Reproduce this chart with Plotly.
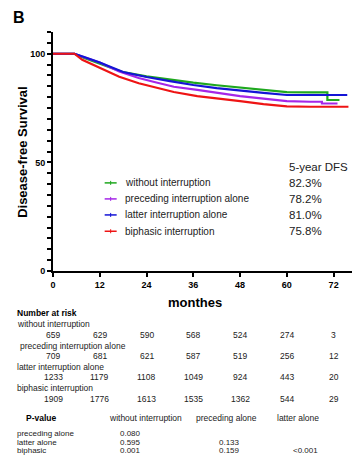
import plotly.graph_objects as go

# ---------------- data ----------------
series_names = ["without interruption", "preceding interruption alone",
                "latter interruption alone", "biphasic interruption"]
series_colors = ["#1fa81f", "#a526e8", "#1414d6", "#ee1414"]
dfs_5yr = ["82.3%", "78.2%", "81.0%", "75.8%"]

t_without = [0, 5.5, 8, 12, 18, 24, 30, 36, 42, 48, 54, 60, 66, 70.4, 70.4, 73.5]
s_without = [100, 100, 98, 95.3, 91.5, 89.6, 88, 86.7, 85.5, 84.5, 83.4, 82.3, 82.2, 82.2, 78.7, 78.7]

t_preceding = [0, 5.5, 8, 12, 17, 22, 26, 31, 37, 42, 48, 54, 60, 66, 69, 69, 73]
s_preceding = [100, 100, 98.4, 96, 91.8, 88.8, 87, 84.8, 83.4, 82, 80.5, 79.3, 78.2, 77.9, 77.9, 77.1, 77.1]

t_latter = [0, 5.5, 8, 12, 18, 24, 30, 36, 42, 48, 54, 60, 66, 70, 75.5]
s_latter = [100, 100, 98.5, 96, 91.6, 89.3, 87.4, 85.6, 84.2, 83, 82, 81.0, 81.0, 81.0, 81.0]

t_biphasic = [0, 5.5, 7.5, 12, 17, 22, 26, 31, 37, 42, 48, 54, 60, 66, 75.8]
s_biphasic = [100, 100, 97.2, 93.5, 89.4, 86.4, 84.5, 82.4, 80.5, 79.3, 78.2, 76.8, 75.8, 75.6, 75.6]

risk_times = [0, 12, 24, 36, 48, 60, 72]
risk_without = [659, 629, 590, 568, 524, 274, 3]
risk_preceding = [709, 681, 621, 587, 519, 256, 12]
risk_latter = [1233, 1179, 1108, 1049, 924, 443, 20]
risk_biphasic = [1909, 1776, 1613, 1535, 1362, 544, 29]

pval_cols = ["without interruption", "preceding alone", "latter alone"]
pval_rows = ["preceding alone", "latter alone", "biphasic"]
pval_values = [["0.080", "", ""],
               ["0.595", "0.133", ""],
               ["0.001", "0.159", "<0.001"]]

# ---------------- geometry helpers ----------------
# The page body has an 8px margin, so the figure is drawn 8px smaller and
# every target pixel position (measured on the 360x469 reference) is shifted.
O = 8
W, H = 360 - O, 469 - O
L, R, T, B = 53.3 - O, 2.5, 32.0 - O, 198.3
PW, PH = W - L - R, H - T - B
FONT = "Arial, Liberation Sans, sans-serif"


def px(x):
    return (x - O - L) / PW


def py(y):
    return (H - B - (y - O)) / PH


fig = go.Figure()
times = [t_without, t_preceding, t_latter, t_biphasic]
survs = [s_without, s_preceding, s_latter, s_biphasic]
for name, col, t, s in zip(series_names, series_colors, times, survs):
    fig.add_trace(go.Scatter(x=t, y=s, mode="lines", line=dict(color=col, width=2.2),
                             name=name, showlegend=False))

ann = []
shapes = []

# legend (manual)
leg_y = [182.7, 198.7, 214.7, 231.0]
for name, col, v, yy in zip(series_names, series_colors, dfs_5yr, leg_y):
    shapes.append(dict(type="line", xref="paper", yref="paper", x0=px(105), x1=px(117),
                       y0=py(yy), y1=py(yy), line=dict(color=col, width=1.5)))
    shapes.append(dict(type="line", xref="paper", yref="paper", x0=px(111), x1=px(111),
                       y0=py(yy - 2), y1=py(yy + 2), line=dict(color=col, width=1)))
    ann.append(dict(text=name, x=px(123), y=py(yy), xref="paper", yref="paper",
                    xanchor="left", yanchor="middle", showarrow=False,
                    font=dict(size=10, family=FONT, color="#222")))
    ann.append(dict(text=v, x=px(287), y=py(yy), xref="paper", yref="paper",
                    xanchor="left", yanchor="middle", showarrow=False,
                    font=dict(size=11.5, family=FONT, color="#222")))
ann.append(dict(text="5-year DFS", x=px(287), y=py(167), xref="paper", yref="paper",
                xanchor="left", yanchor="middle", showarrow=False,
                font=dict(size=11.5, family=FONT, color="#222")))

# panel letter and axis title
ann.append(dict(text="<b>B</b>", x=px(12), y=py(8), xref="paper", yref="paper",
                xanchor="left", yanchor="top", showarrow=False, borderpad=0,
                font=dict(size=16, family=FONT, color="#000")))
ann.append(dict(text="<b>Disease-free Survival</b>", x=px(22), y=py(152), xref="paper", yref="paper",
                xanchor="center", yanchor="middle", showarrow=False, textangle=-90,
                font=dict(size=13, family=FONT, color="#000")))
ann.append(dict(text="<b>monthes</b>", x=px(195), y=py(302), xref="paper", yref="paper",
                xanchor="center", yanchor="middle", showarrow=False,
                font=dict(size=13, family=FONT, color="#000")))

# number at risk table
small = dict(size=8.5, family=FONT, color="#222")
tiny = dict(size=8, family=FONT, color="#222")
ann.append(dict(text="<b>Number at risk</b>", x=px(15), y=py(313), xref="paper", yref="paper",
                xanchor="left", yanchor="middle", showarrow=False,
                font=dict(size=8.5, family=FONT, color="#000")))
risk_rows = [risk_without, risk_preceding, risk_latter, risk_biphasic]
label_y = [324, 345.5, 366.5, 387.5]
label_x = [15, 18, 15, 15]
num_y = [335, 356, 377, 399]
for name, row, ly, lx, ny in zip(series_names, risk_rows, label_y, label_x, num_y):
    ann.append(dict(text=name, x=px(lx), y=py(ly), xref="paper", yref="paper",
                    xanchor="left", yanchor="middle", showarrow=False, font=small))
    for t, n in zip(risk_times, row):
        ann.append(dict(text=str(n), x=t, y=py(ny), xref="x", yref="paper",
                        xanchor="center", yanchor="middle", showarrow=False, font=small))

# p-value table
ann.append(dict(text="<b>P-value</b>", x=px(42), y=py(418), xref="paper", yref="paper",
                xanchor="center", yanchor="middle", showarrow=False,
                font=dict(size=8.5, family=FONT, color="#000")))
col_cx = [146, 227, 298]
for c, cx in zip(pval_cols, col_cx):
    ann.append(dict(text=c, x=px(cx), y=py(418), xref="paper", yref="paper",
                    xanchor="center", yanchor="middle", showarrow=False, font=small))
row_y = [433, 441.5, 450]
val_x = [118, 217, 291]
for rname, vals, ry in zip(pval_rows, pval_values, row_y):
    ann.append(dict(text=rname, x=px(15), y=py(ry), xref="paper", yref="paper",
                    xanchor="left", yanchor="middle", showarrow=False, font=tiny))
    for v, vx in zip(vals, val_x):
        if v:
            ann.append(dict(text=v, x=px(vx), y=py(ry), xref="paper", yref="paper",
                            xanchor="left", yanchor="middle", showarrow=False, font=tiny))

ytickvals = list(range(0, 111, 5))
yticktext = ["<b>%d</b>" % v if v in (0, 50, 100) else "" for v in ytickvals]

fig.update_layout(
    width=W, height=H,
    margin=dict(l=L, r=R, t=T, b=B),
    plot_bgcolor="white", paper_bgcolor="white",
    xaxis=dict(range=[0, 78], tickvals=risk_times, ticktext=["<b>%d</b>" % v for v in risk_times],
               ticks="outside", ticklen=4, tickwidth=1.5, tickcolor="#000",
               showline=True, linecolor="#000", linewidth=2, showgrid=False, zeroline=False,
               tickfont=dict(size=9, family=FONT, color="#000")),
    yaxis=dict(range=[0, 110], tickvals=ytickvals, ticktext=yticktext,
               ticks="outside", ticklen=4, tickwidth=1.5, tickcolor="#000",
               showline=True, linecolor="#000", linewidth=2, showgrid=False, zeroline=False,
               tickfont=dict(size=9, family=FONT, color="#000")),
    annotations=ann, shapes=shapes,
    showlegend=False,
)

fig.write_html("out.html")
